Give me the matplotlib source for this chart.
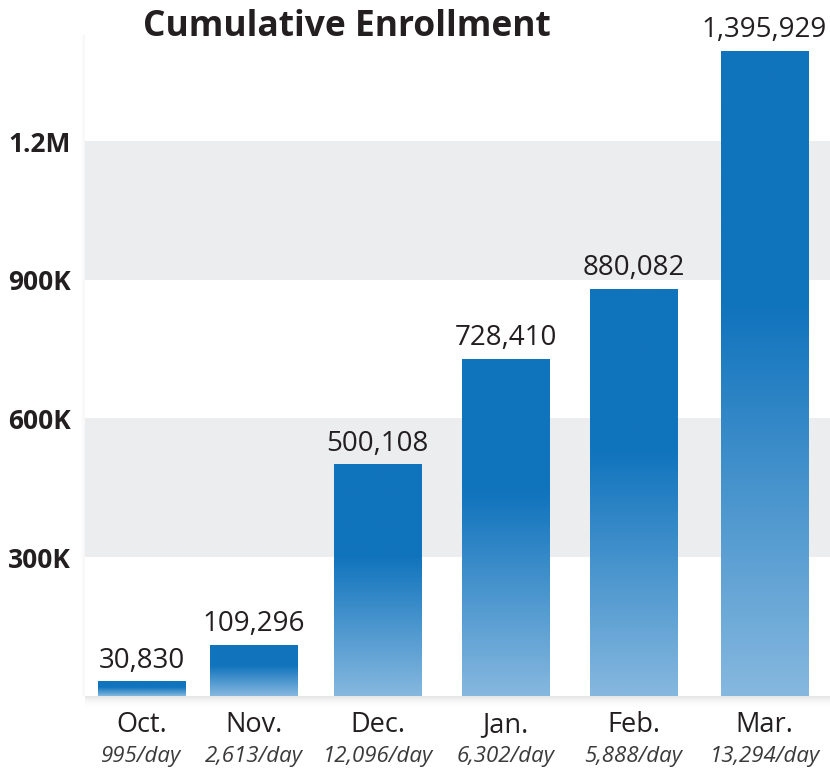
import numpy as np
import matplotlib.pyplot as plt
from matplotlib.patches import Rectangle
from matplotlib.colors import to_rgb

months = ['Oct.', 'Nov.', 'Dec.', 'Jan.', 'Feb.', 'Mar.']
per_day = ['995/day', '2,613/day', '12,096/day', '6,302/day', '5,888/day', '13,294/day']
enrolled = [30830, 109296, 500108, 728410, 880082, 1395929]
yticks = [300000, 600000, 900000, 1200000]
ytick_labels = ['300K', '600K', '900K', '1.2M']

# layout
xpos = [0, 0.9, 1.894, 2.922, 3.949, 5.0]
barw = 0.70
dark = np.array(to_rgb('#1174bd'))
light = np.array(to_rgb('#86b8df'))
band = '#ecedef'
ink = '#231f20'

plt.rcParams['font.family'] = ['Open Sans', 'DejaVu Sans']

W, H = 830, 768
fig = plt.figure(figsize=(W/100, H/100), dpi=100)
ax_l, ax_b, ax_t = 85/W, 1-695.7/H, 1-35/H
ax = fig.add_axes([ax_l, ax_b, 1-ax_l, ax_t-ax_b])

ax.axhspan(300000, 600000, color=band, zorder=0, lw=0)
ax.axhspan(900000, 1200000, color=band, zorder=0, lw=0)

# vertical gradient: light at bottom, full dark from 60% of bar height up
t = np.linspace(0, 1, 256)
f = np.clip(t/0.6, 0, 1)
grad = light + (dark-light)*f[:, None]
for x, v in zip(xpos, enrolled):
    ax.imshow(grad[:, None, :], extent=[x-barw/2, x+barw/2, 0, v], origin='lower',
              aspect='auto', zorder=2, interpolation='bilinear')
    ax.annotate(f'{v:,}', (x, v), xytext=(0, 5), textcoords='offset points',
                ha='center', va='bottom', fontsize=20, color=ink)

for x, m, d in zip(xpos, months, per_day):
    ax.annotate(m, (x, 0), xycoords=('data', 'axes fraction'), xytext=(0, -26),
                textcoords='offset points', ha='center', va='baseline',
                fontsize=19.5, color=ink)
    ax.annotate(d, (x, 0), xycoords=('data', 'axes fraction'), xytext=(0, -48),
                textcoords='offset points', ha='center', va='baseline',
                fontsize=16, style='italic', color='#3c3a3b')

ax.set_xlim(-0.453, 5.526)
ax.set_ylim(0, 1430000)
ax.set_xticks([])
ax.set_yticks(yticks, ytick_labels)
ax.tick_params(axis='y', length=0, pad=10)
for lab in ax.get_yticklabels():
    lab.set_fontweight('bold')
    lab.set_fontsize(19)
    lab.set_color(ink)
for s in ax.spines.values():
    s.set_visible(False)

# soft drop shadow under the plot area
for i in range(12):
    fig.add_artist(Rectangle((ax_l, ax_b-(i+1)/H), 1-ax_l, 1/H, transform=fig.transFigure,
                             color='k', alpha=0.10*(1-i/12)**2, lw=0, zorder=0))
for i in range(4):
    fig.add_artist(Rectangle((ax_l-(i+1)/W, ax_b), 1/W, ax_t-ax_b, transform=fig.transFigure,
                             color='k', alpha=0.03*(1-i/4), lw=0, zorder=0))

fig.text(347/W, 1-27/H, 'Cumulative Enrollment', ha='center', va='center',
         fontsize=25.5, fontweight='bold', color=ink)

fig.savefig('out.png', dpi=100)
